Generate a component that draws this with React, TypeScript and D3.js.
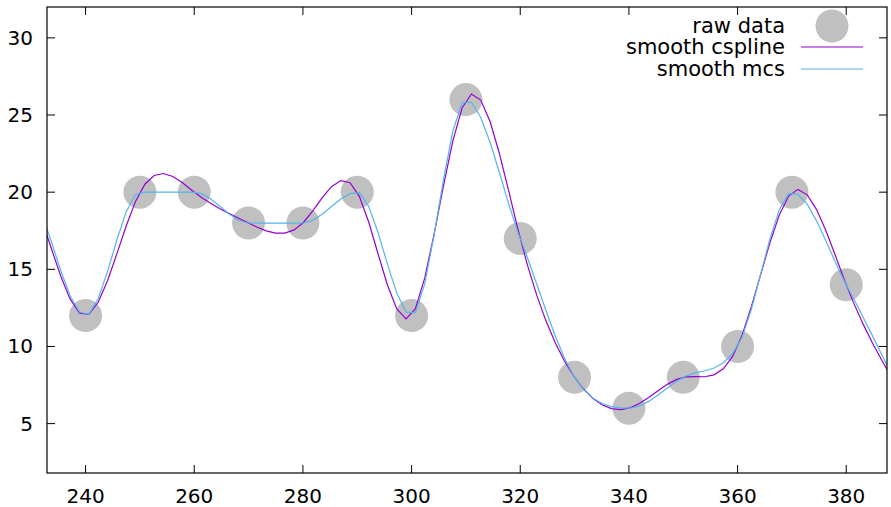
import React from 'react';
import * as d3 from 'd3';

// data (points at 220, 230 and 390 lie outside the visible x range)
const dataX = [220, 230, 240, 250, 260, 270, 280, 290, 300, 310, 320, 330, 340, 350, 360, 370, 380, 390];
const dataY = [22, 20, 12, 20, 20, 18, 18, 20, 12, 26, 17, 8, 6, 8, 10, 20, 14, 7];
const xTicks = [240, 260, 280, 300, 320, 340, 360, 380];
const yTicks = [5, 10, 15, 20, 25, 30];
const legendLabels = ['raw data', 'smooth cspline', 'smooth mcs'];

const W = 891, H = 507;
const L = 47, R = 887, T = 7, B = 473;
const FONT = 'DejaVu Sans, sans-serif';
const C_RAW = '#c0c0c0', C_CS = '#9400d3', C_MCS = '#56b4e9';

function naturalSpline(x: number[], y: number[]) {
  const n = x.length;
  const h = x.slice(1).map((v, i) => v - x[i]);
  const a = new Array(n).fill(0), b = new Array(n).fill(0), c = new Array(n).fill(0), d = new Array(n).fill(0);
  b[0] = 1; b[n - 1] = 1;
  for (let i = 1; i < n - 1; i++) {
    a[i] = h[i - 1]; b[i] = 2 * (h[i - 1] + h[i]); c[i] = h[i];
    d[i] = 6 * ((y[i + 1] - y[i]) / h[i] - (y[i] - y[i - 1]) / h[i - 1]);
  }
  const cp = new Array(n).fill(0), dp = new Array(n).fill(0);
  cp[0] = c[0] / b[0]; dp[0] = d[0] / b[0];
  for (let i = 1; i < n; i++) {
    const m = b[i] - a[i] * cp[i - 1];
    cp[i] = c[i] / m; dp[i] = (d[i] - a[i] * dp[i - 1]) / m;
  }
  const M = new Array(n).fill(0);
  M[n - 1] = dp[n - 1];
  for (let i = n - 2; i >= 0; i--) M[i] = dp[i] - cp[i] * M[i + 1];
  return (t: number) => {
    let i = 0;
    while (i < n - 2 && t > x[i + 1]) i++;
    const hi = h[i];
    const A = (x[i + 1] - t) / hi, Bq = (t - x[i]) / hi;
    return A * y[i] + Bq * y[i + 1] + ((A * A * A - A) * M[i] + (Bq * Bq * Bq - Bq) * M[i + 1]) * hi * hi / 6;
  };
}

function monotoneSpline(x: number[], y: number[]) {
  const n = x.length;
  const h = x.slice(1).map((v, i) => v - x[i]);
  const del = h.map((hi, i) => (y[i + 1] - y[i]) / hi);
  const m = new Array(n).fill(0);
  m[0] = del[0]; m[n - 1] = del[n - 2];
  for (let i = 1; i < n - 1; i++) {
    m[i] = del[i - 1] * del[i] <= 0 ? 0 : (del[i - 1] + del[i]) / 2;
  }
  for (let i = 0; i < n - 1; i++) {
    if (del[i] === 0) { m[i] = 0; m[i + 1] = 0; continue; }
    const al = m[i] / del[i], be = m[i + 1] / del[i];
    const s = al * al + be * be;
    if (s > 9) {
      const tau = 3 / Math.sqrt(s);
      m[i] = tau * al * del[i]; m[i + 1] = tau * be * del[i];
    }
  }
  return (t: number) => {
    let i = 0;
    while (i < n - 2 && t > x[i + 1]) i++;
    const hi = h[i];
    const s = (t - x[i]) / hi;
    const h00 = 2 * s * s * s - 3 * s * s + 1, h10 = s * s * s - 2 * s * s + s;
    const h01 = -2 * s * s * s + 3 * s * s, h11 = s * s * s - s * s;
    return h00 * y[i] + h10 * hi * m[i] + h01 * y[i + 1] + h11 * hi * m[i + 1];
  };
}

export default function App() {
  const x = d3.scaleLinear().domain([232.9, 387.5]).range([L, R]);
  const y = d3.scaleLinear().domain([1.8, 32]).range([B, T]);
  const samples = 100;
  const x0 = dataX[0], x1 = dataX[dataX.length - 1];
  const ts = d3.range(samples).map(i => x0 + (x1 - x0) * i / (samples - 1));
  const cs = naturalSpline(dataX, dataY);
  const mc = monotoneSpline(dataX, dataY);
  const line = d3.line<[number, number]>().x(d => x(d[0])).y(d => y(d[1]));
  const csPath = line(ts.map(t => [t, cs(t)]))!;
  const mcPath = line(ts.map(t => [t, mc(t)]))!;
  const visPts = dataX.map((v, i) => [v, dataY[i]]).filter(p => p[0] >= 232.9 && p[0] <= 387.5);

  const legY = [26, 47, 69];
  return (
    <svg width={W} height={H} style={{ position: 'absolute', left: 0, top: 0, background: '#fff' }} fontFamily={FONT}>
      <defs>
        <clipPath id="plot"><rect x={L} y={T} width={R - L} height={B - T} /></clipPath>
      </defs>
      <rect x={0} y={0} width={W} height={H} fill="#fff" />
      <g clipPath="url(#plot)">
        {visPts.map((p, i) => (
          <circle key={i} cx={x(p[0])} cy={y(p[1])} r={16.5} fill={C_RAW} />
        ))}
        <path d={csPath} fill="none" stroke={C_CS} strokeWidth={1.2} />
        <path d={mcPath} fill="none" stroke={C_MCS} strokeWidth={1.2} />
      </g>
      {legendLabels.map((lab, i) => (
        <text key={lab} x={785} y={legY[i]} dy="0.35em" textAnchor="end" fontSize={21} fill="#000">{lab}</text>
      ))}
      <circle cx={832} cy={legY[0]} r={16.5} fill={C_RAW} />
      <line x1={801} x2={863} y1={legY[1]} y2={legY[1]} stroke={C_CS} strokeWidth={1.2} />
      <line x1={801} x2={863} y1={legY[2]} y2={legY[2]} stroke={C_MCS} strokeWidth={1.2} />
      {xTicks.map(t => (
        <g key={'x' + t}>
          <line x1={x(t)} x2={x(t)} y1={B} y2={B - 8} stroke="#000" />
          <line x1={x(t)} x2={x(t)} y1={T} y2={T + 8} stroke="#000" />
          <text x={x(t)} y={496} dy="0.35em" textAnchor="middle" fontSize={20} fill="#000">{t}</text>
        </g>
      ))}
      {yTicks.map(t => (
        <g key={'y' + t}>
          <line x1={L} x2={L + 8} y1={y(t)} y2={y(t)} stroke="#000" />
          <line x1={R} x2={R - 8} y1={y(t)} y2={y(t)} stroke="#000" />
          <text x={33} y={y(t)} dy="0.35em" textAnchor="end" fontSize={20} fill="#000">{t}</text>
        </g>
      ))}
      <rect x={L} y={T} width={R - L} height={B - T} fill="none" stroke="#000" strokeWidth={1.2} />
    </svg>
  );
}
